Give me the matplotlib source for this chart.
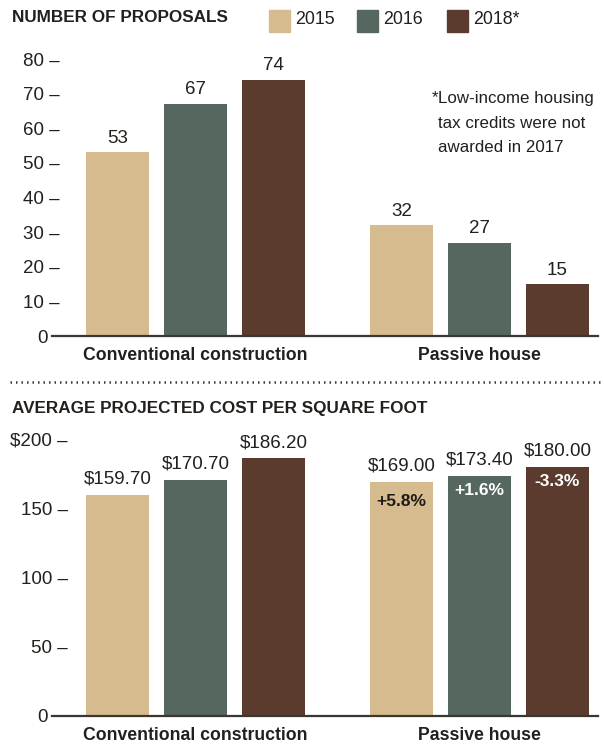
import matplotlib
matplotlib.use("Agg")
import matplotlib.pyplot as plt
from matplotlib.transforms import ScaledTranslation
import numpy as np

plt.rcParams['font.family'] = ['Liberation Sans', 'DejaVu Sans']

# ---- data ----
categories = ["Conventional construction", "Passive house"]
years = ["2015", "2016", "2018*"]
colors = ["#d6bb8e", "#56675f", "#5b3b2e"]

proposals = {
    "2015": [53, 32],
    "2016": [67, 27],
    "2018*": [74, 15],
}
cost = {
    "2015": [159.70, 169.00],
    "2016": [170.70, 173.40],
    "2018*": [186.20, 180.00],
}
passive_change = ["+5.8%", "+1.6%", "-3.3%"]
change_colors = ["#1e1a17", "white", "white"]

prop_ticks = [0, 10, 20, 30, 40, 50, 60, 70, 80]
cost_ticks = [0, 50, 100, 150, 200]
cost_tick_labels = ["0", "50", "100", "150", "$200"]

note_lines = ["Low-income housing", "tax credits were not", "awarded in 2017"]

# ---- layout ----
W, H = 604, 746
fig = plt.figure(figsize=(W / 100, H / 100), dpi=100)

group_pos = np.array([0.0, 3.64])
offsets = [-1, 0, 1]
bar_w = 0.81
AX_L, AX_R = 52, 598
xlim = ((AX_L - 195.5) / 78, (AX_R - 195.5) / 78)
text_col = "#231f1c"


def px_axes(left, right, top, bottom):
    return fig.add_axes([left / W, 1 - bottom / H, (right - left) / W, (bottom - top) / H])


def style_axes(ax, ticks, labels, label_right_px):
    """Axis line only at the bottom; tick labels carry their own dash."""
    ax.set_xlim(*xlim)
    for s in ["top", "right", "left"]:
        ax.spines[s].set_visible(False)
    ax.spines["bottom"].set_color("#3a3632")
    ax.spines["bottom"].set_linewidth(1.6)
    ax.set_xticks(group_pos)
    ax.set_xticklabels(categories, fontsize=12.7, fontweight="bold", color=text_col)
    ax.tick_params(axis="x", length=0, pad=8)
    ax.set_yticks(ticks)
    ax.set_yticklabels([l if l == "0" else l + " \u2013" for l in labels],
                       fontsize=13.5, color=text_col)
    # negative pad lets labels reach past the axes' left edge
    pad_px = label_right_px - AX_L
    ax.tick_params(axis="y", length=0, pad=-pad_px * 0.72)
    for lbl in ax.get_yticklabels():
        if lbl.get_text() == "0":
            lbl.set_transform(lbl.get_transform() +
                              ScaledTranslation(-(label_right_px - 48) / 100, 0,
                                                fig.dpi_scale_trans))


# ---- top: number of proposals ----
ax1 = px_axes(AX_L, AX_R, 59, 336)
ax1.set_ylim(0, 80)
for i, yr in enumerate(years):
    xs = group_pos + offsets[i]
    vals = proposals[yr]
    ax1.bar(xs, vals, width=bar_w, color=colors[i], zorder=2)
    for x, v in zip(xs, vals):
        ax1.annotate(f"{v}", (x, v), xytext=(0, 4), textcoords="offset points",
                     ha="center", va="bottom", fontsize=13.5, color=text_col,
                     annotation_clip=False)
style_axes(ax1, prop_ticks, [str(t) for t in prop_ticks], 60)

# footnote
ax1.text(438 / W, 1 - 98 / H, "*", transform=fig.transFigure, ha="right", va="center",
         fontsize=12.2, color=text_col)
for k, line in enumerate(note_lines):
    ax1.text(438 / W, 1 - (98 + 25 * k) / H, line, transform=fig.transFigure,
             ha="left", va="center", fontsize=12.2, color=text_col)

# ---- bottom: average projected cost ----
ax2 = px_axes(AX_L, AX_R, 439, 716)
ax2.set_ylim(0, 200)
inner_drop_px = [20, 15, 15]
for i, yr in enumerate(years):
    xs = group_pos + offsets[i]
    vals = cost[yr]
    ax2.bar(xs, vals, width=bar_w, color=colors[i], zorder=2)
    for x, v in zip(xs, vals):
        ax2.annotate(f"${v:.2f}", (x, v), xytext=(0, 5), textcoords="offset points",
                     ha="center", va="bottom", fontsize=13.5, color=text_col,
                     annotation_clip=False)
    # percentage change inside the passive-house bars
    ax2.annotate(passive_change[i], (xs[1], vals[1]),
                 xytext=(0, -inner_drop_px[i] * 0.72),
                 textcoords="offset points", ha="center", va="center",
                 fontsize=12.5, fontweight="bold", color=change_colors[i], zorder=3)
style_axes(ax2, cost_ticks, cost_tick_labels, 68)

# ---- titles, legend, separator ----
fig.text(12 / W, 1 - 18 / H, "NUMBER OF PROPOSALS", ha="left", va="center",
         fontsize=12.3, fontweight="bold", color=text_col)
fig.text(12 / W, 1 - 408 / H, "AVERAGE PROJECTED COST PER SQUARE FOOT", ha="left",
         va="center", fontsize=12.3, fontweight="bold", color=text_col)

leg_x = [269, 357, 447]
for i, yr in enumerate(years):
    fig.patches.append(plt.Rectangle((leg_x[i] / W, 1 - 32 / H), 21 / W, 22 / H,
                                     transform=fig.transFigure, color=colors[i]))
    fig.text((leg_x[i] + 26) / W, 1 - 20 / H, yr, ha="left", va="center",
             fontsize=12.8, color=text_col)

fig.add_artist(plt.Line2D([10 / W, 1], [1 - 382 / H, 1 - 382 / H],
                          transform=fig.transFigure, color="#3a3632",
                          linewidth=1.8, linestyle=(0, (0.6, 1.6))))

fig.savefig("out.png", dpi=100)
